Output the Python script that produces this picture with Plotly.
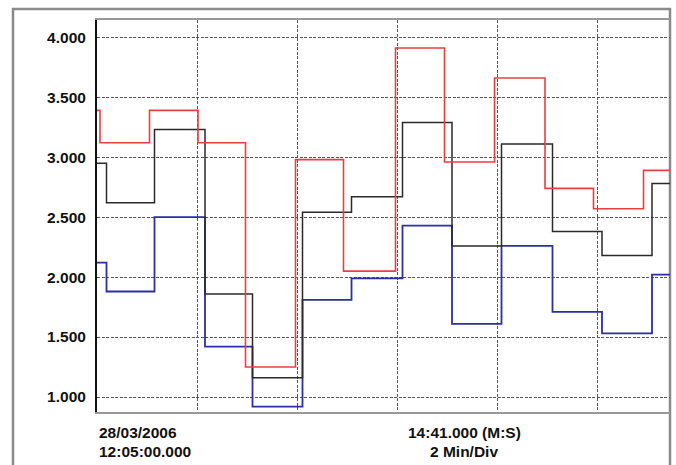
import plotly.graph_objects as go

# Step data (time in minutes from start, value at start of each step)
red_t = [0, 0.06, 1.05, 2.02, 2.97, 3.97, 4.93, 5.97, 6.95, 7.95, 8.96, 9.93, 10.93, 11.46]
red_v = [3.39, 3.12, 3.39, 3.12, 1.25, 2.98, 2.05, 3.91, 2.96, 3.66, 2.74, 2.57, 2.89, 2.89]

bk_t = [0, 0.19, 1.15, 2.16, 3.11, 4.11, 5.09, 6.11, 7.10, 8.09, 9.11, 10.10, 11.10, 11.46]
black_v = [2.95, 2.62, 3.23, 1.86, 1.16, 2.54, 2.67, 3.29, 2.26, 3.11, 2.38, 2.18, 2.78, 2.78]
blue_v = [2.12, 1.88, 2.50, 1.42, 0.92, 1.81, 1.99, 2.43, 1.61, 2.26, 1.71, 1.53, 2.02, 2.02]

y_ticks = [1.0, 1.5, 2.0, 2.5, 3.0, 3.5, 4.0]
y_labels = ["1.000", "1.500", "2.000", "2.500", "3.000", "3.500", "4.000"]
x_grid = [2, 4, 6, 8, 10]

W, H = 676, 465
L, R, T, B = 97, 6, 20, 53
pw = W - L - R
ph = H - T - B

def px(p):
    return (p - L) / pw

def py(p):
    return (H - B - p) / ph

fig = go.Figure()
fig.add_trace(go.Scatter(x=bk_t, y=blue_v, mode="lines", line_shape="hv",
                         line=dict(color="#2b2fa8", width=1.8)))
fig.add_trace(go.Scatter(x=bk_t, y=black_v, mode="lines", line_shape="hv",
                         line=dict(color="#2a2a2a", width=1.5)))
fig.add_trace(go.Scatter(x=red_t, y=red_v, mode="lines", line_shape="hv",
                         line=dict(color="#e8403f", width=1.6)))

bold = dict(family="Liberation Sans, Arial, sans-serif", size=15.5, color="#111", weight="bold")

fig.update_layout(
    width=W, height=H,
    margin=dict(l=L, r=R, t=T, b=B),
    paper_bgcolor="white", plot_bgcolor="white",
    showlegend=False,
    font=bold,
    xaxis=dict(range=[0, 11.46], tickvals=x_grid, showticklabels=False,
               showgrid=True, gridcolor="#555", griddash="3px,1.5px", gridwidth=1,
               zeroline=False, showline=True, linecolor="#999", linewidth=1.5,
               mirror=True, ticks=""),
    yaxis=dict(range=[0.875, 4.144], tickvals=y_ticks, ticktext=y_labels,
               showgrid=True, gridcolor="#555", griddash="3px,1.5px", gridwidth=1,
               zeroline=False, showline=True, linecolor="#111", linewidth=2,
               ticks="", ticklabelstandoff=6, tickfont=bold),
)

# outer frame
fig.add_shape(type="rect", xref="paper", yref="paper",
              x0=px(13), x1=px(670), y0=py(475), y1=py(9),
              line=dict(color="#8a8a8a", width=2.5), layer="below")

fig.add_annotation(text="28/03/2006", xref="paper", yref="paper", x=0, y=py(432),
                   xanchor="left", yanchor="middle", showarrow=False, font=bold)
fig.add_annotation(text="12:05:00.000", xref="paper", yref="paper", x=0, y=py(452),
                   xanchor="left", yanchor="middle", showarrow=False, font=bold)
fig.add_annotation(text="14:41.000 (M:S)", xref="paper", yref="paper", x=px(464), y=py(432),
                   xanchor="center", yanchor="middle", showarrow=False, font=bold)
fig.add_annotation(text="2 Min/Div", xref="paper", yref="paper", x=px(464), y=py(452),
                   xanchor="center", yanchor="middle", showarrow=False, font=bold)

fig.write_html("out.html", config={"displayModeBar": False},
               post_script="document.body.style.margin='0';")
